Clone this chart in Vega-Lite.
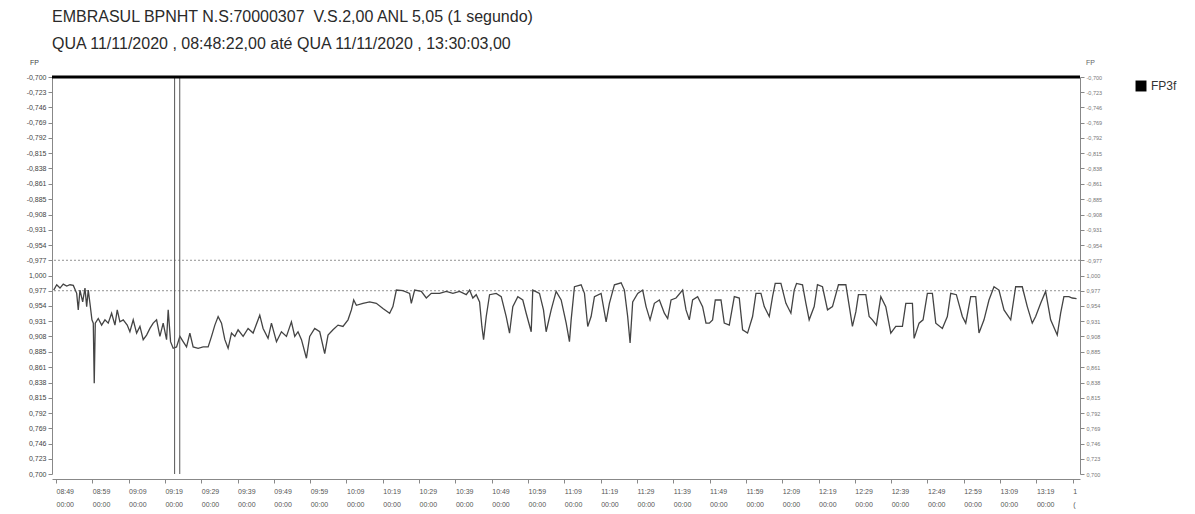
{
  "$schema": "https://vega.github.io/schema/vega-lite/v6.json",
  "autosize": {"type": "none"},
  "width": 1028,
  "height": 397,
  "padding": {"left": 52, "top": 77, "right": 115, "bottom": 40},
  "background": "white",
  "config": {"view": {"stroke": null}, "axisX": {"labelOverlap": false}},
  "title": {
    "text": ["EMBRASUL BPNHT N.S:70000307\u00a0 V.S.2,00 ANL 5,05 (1 segundo)", "QUA 11/11/2020 , 08:48:22,00 até QUA 11/11/2020 , 13:30:03,00"],
    "anchor": "start", "frame": "group", "font": "Liberation Sans", "fontSize": 16, "fontWeight": "normal", "color": "#2a2a2a", "lineHeight": 27, "offset": 6
  },
  "layer": [
    {
      "data": {"values": [{"ref": 0.977}, {"ref": 1.023}]},
      "mark": {"type": "rule", "color": "#777", "strokeWidth": 0.8, "strokeDash": [2, 2]},
      "encoding": {
        "y": {"field": "ref", "type": "quantitative", "scale": {"domain": [0.7, 1.3], "nice": false, "zero": false},
          "axis": {"orient": "right", "values": [0.7, 0.723, 0.746, 0.769, 0.792, 0.815, 0.838, 0.861, 0.885, 0.908, 0.931, 0.954, 0.977, 1.0, 1.023, 1.046, 1.069, 1.092, 1.115, 1.139, 1.162, 1.185, 1.208, 1.231, 1.254, 1.277, 1.3],
            "labelExpr": "datum.value > 1.0005 ? '-' + replace(format(2 - datum.value, '.3f'), '.', ',') : replace(format(datum.value, '.3f'), '.', ',')",
            "title": "FP", "titleAngle": 0, "titleX": 10, "titleY": -12, "titleAlign": "center", "titleFontSize": 7, "titleFontWeight": "normal", "titleColor": "#666", "titleFont": "Liberation Sans",
            "labelFontSize": 5.5, "labelColor": "#777", "labelFont": "Liberation Sans", "tickSize": 4, "tickColor": "#888", "domainColor": "#888", "grid": false, "labelPadding": 2, "labelOverlap": false, "labelBound": false, "labelFlush": false}}
      }
    },
    {
      "data": {"values": [
        {"t": "2020-11-11T08:48:22", "fp": 0.978}, {"t": "2020-11-11T08:49:12", "fp": 0.986}, {"t": "2020-11-11T08:50:06", "fp": 0.981}, {"t": "2020-11-11T08:51:00", "fp": 0.987}, {"t": "2020-11-11T08:51:57", "fp": 0.984}, {"t": "2020-11-11T08:52:51", "fp": 0.986}, {"t": "2020-11-11T08:53:46", "fp": 0.985}, {"t": "2020-11-11T08:54:42", "fp": 0.973}, {"t": "2020-11-11T08:55:08", "fp": 0.948}, {"t": "2020-11-11T08:55:36", "fp": 0.978}, {"t": "2020-11-11T08:56:21", "fp": 0.960}, {"t": "2020-11-11T08:56:59", "fp": 0.981}, {"t": "2020-11-11T08:57:27", "fp": 0.953}, {"t": "2020-11-11T08:57:53", "fp": 0.978}, {"t": "2020-11-11T08:58:21", "fp": 0.958}, {"t": "2020-11-11T08:58:54", "fp": 0.933}, {"t": "2020-11-11T08:59:16", "fp": 0.928}, {"t": "2020-11-11T08:59:32", "fp": 0.837}, {"t": "2020-11-11T08:59:49", "fp": 0.928},
        {"t": "2020-11-11T09:00:38", "fp": 0.935}, {"t": "2020-11-11T09:01:34", "fp": 0.925}, {"t": "2020-11-11T09:02:29", "fp": 0.933}, {"t": "2020-11-11T09:03:23", "fp": 0.928}, {"t": "2020-11-11T09:04:19", "fp": 0.943}, {"t": "2020-11-11T09:05:14", "fp": 0.925}, {"t": "2020-11-11T09:05:52", "fp": 0.948}, {"t": "2020-11-11T09:06:36", "fp": 0.930}, {"t": "2020-11-11T09:07:31", "fp": 0.933}, {"t": "2020-11-11T09:08:37", "fp": 0.925}, {"t": "2020-11-11T09:09:21", "fp": 0.915}, {"t": "2020-11-11T09:10:16", "fp": 0.933}, {"t": "2020-11-11T09:11:12", "fp": 0.913}, {"t": "2020-11-11T09:12:07", "fp": 0.923}, {"t": "2020-11-11T09:13:01", "fp": 0.903}, {"t": "2020-11-11T09:13:57", "fp": 0.910}, {"t": "2020-11-11T09:14:52", "fp": 0.920}, {"t": "2020-11-11T09:15:46", "fp": 0.928}, {"t": "2020-11-11T09:16:42", "fp": 0.933}, {"t": "2020-11-11T09:17:37", "fp": 0.908}, {"t": "2020-11-11T09:18:31", "fp": 0.928}, {"t": "2020-11-11T09:19:27", "fp": 0.903}, {"t": "2020-11-11T09:19:54", "fp": 0.948},
        {"t": "2020-11-11T09:20:33", "fp": 0.900}, {"t": "2020-11-11T09:21:16", "fp": 0.890}, {"t": "2020-11-11T09:22:12", "fp": 0.892}, {"t": "2020-11-11T09:23:07", "fp": 0.908}, {"t": "2020-11-11T09:24:01", "fp": 0.900}, {"t": "2020-11-11T09:24:57", "fp": 0.892}, {"t": "2020-11-11T09:25:52", "fp": 0.913}, {"t": "2020-11-11T09:26:46", "fp": 0.892}, {"t": "2020-11-11T09:28:09", "fp": 0.890}, {"t": "2020-11-11T09:29:31", "fp": 0.892}, {"t": "2020-11-11T09:30:54", "fp": 0.892}, {"t": "2020-11-11T09:31:50", "fp": 0.908}, {"t": "2020-11-11T09:32:45", "fp": 0.925}, {"t": "2020-11-11T09:33:39", "fp": 0.938}, {"t": "2020-11-11T09:34:35", "fp": 0.928}, {"t": "2020-11-11T09:35:30", "fp": 0.903}, {"t": "2020-11-11T09:36:24", "fp": 0.890}, {"t": "2020-11-11T09:37:20", "fp": 0.913}, {"t": "2020-11-11T09:38:15", "fp": 0.908}, {"t": "2020-11-11T09:39:09", "fp": 0.918},
        {"t": "2020-11-11T09:40:32", "fp": 0.908}, {"t": "2020-11-11T09:41:54", "fp": 0.920}, {"t": "2020-11-11T09:43:17", "fp": 0.913}, {"t": "2020-11-11T09:45:07", "fp": 0.940}, {"t": "2020-11-11T09:46:02", "fp": 0.920}, {"t": "2020-11-11T09:47:24", "fp": 0.905}, {"t": "2020-11-11T09:48:20", "fp": 0.928}, {"t": "2020-11-11T09:49:43", "fp": 0.900}, {"t": "2020-11-11T09:51:05", "fp": 0.915}, {"t": "2020-11-11T09:52:28", "fp": 0.908}, {"t": "2020-11-11T09:53:50", "fp": 0.930}, {"t": "2020-11-11T09:54:45", "fp": 0.908}, {"t": "2020-11-11T09:55:39", "fp": 0.915}, {"t": "2020-11-11T09:56:36", "fp": 0.903}, {"t": "2020-11-11T09:57:58", "fp": 0.875}, {"t": "2020-11-11T09:58:52", "fp": 0.908},
        {"t": "2020-11-11T10:00:15", "fp": 0.920}, {"t": "2020-11-11T10:01:38", "fp": 0.915}, {"t": "2020-11-11T10:03:00", "fp": 0.882}, {"t": "2020-11-11T10:03:55", "fp": 0.910}, {"t": "2020-11-11T10:05:17", "fp": 0.918}, {"t": "2020-11-11T10:06:40", "fp": 0.925}, {"t": "2020-11-11T10:08:02", "fp": 0.923}, {"t": "2020-11-11T10:09:25", "fp": 0.933}, {"t": "2020-11-11T10:10:21", "fp": 0.948}, {"t": "2020-11-11T10:10:59", "fp": 0.963}, {"t": "2020-11-11T10:11:43", "fp": 0.955}, {"t": "2020-11-11T10:13:32", "fp": 0.958}, {"t": "2020-11-11T10:15:23", "fp": 0.960}, {"t": "2020-11-11T10:17:13", "fp": 0.958}, {"t": "2020-11-11T10:19:02", "fp": 0.950},
        {"t": "2020-11-11T10:20:53", "fp": 0.943}, {"t": "2020-11-11T10:21:47", "fp": 0.953}, {"t": "2020-11-11T10:22:44", "fp": 0.978}, {"t": "2020-11-11T10:24:32", "fp": 0.977}, {"t": "2020-11-11T10:26:23", "fp": 0.973}, {"t": "2020-11-11T10:26:51", "fp": 0.958}, {"t": "2020-11-11T10:27:46", "fp": 0.978}, {"t": "2020-11-11T10:29:36", "fp": 0.976}, {"t": "2020-11-11T10:30:59", "fp": 0.966}, {"t": "2020-11-11T10:32:21", "fp": 0.973}, {"t": "2020-11-11T10:34:38", "fp": 0.973}, {"t": "2020-11-11T10:36:29", "fp": 0.976}, {"t": "2020-11-11T10:38:18", "fp": 0.973},
        {"t": "2020-11-11T10:40:08", "fp": 0.976}, {"t": "2020-11-11T10:41:59", "fp": 0.971}, {"t": "2020-11-11T10:42:54", "fp": 0.978}, {"t": "2020-11-11T10:43:48", "fp": 0.966}, {"t": "2020-11-11T10:44:44", "fp": 0.971}, {"t": "2020-11-11T10:45:39", "fp": 0.960}, {"t": "2020-11-11T10:46:17", "fp": 0.923}, {"t": "2020-11-11T10:46:45", "fp": 0.903}, {"t": "2020-11-11T10:47:29", "fp": 0.938}, {"t": "2020-11-11T10:48:24", "fp": 0.971}, {"t": "2020-11-11T10:50:14", "fp": 0.973}, {"t": "2020-11-11T10:51:37", "fp": 0.968}, {"t": "2020-11-11T10:52:59", "fp": 0.938}, {"t": "2020-11-11T10:53:54", "fp": 0.913}, {"t": "2020-11-11T10:54:48", "fp": 0.953}, {"t": "2020-11-11T10:56:11", "fp": 0.968}, {"t": "2020-11-11T10:57:33", "fp": 0.963}, {"t": "2020-11-11T10:58:29", "fp": 0.943}, {"t": "2020-11-11T10:59:52", "fp": 0.915},
        {"t": "2020-11-11T11:00:18", "fp": 0.978}, {"t": "2020-11-11T11:02:09", "fp": 0.973}, {"t": "2020-11-11T11:03:15", "fp": 0.948}, {"t": "2020-11-11T11:03:59", "fp": 0.915}, {"t": "2020-11-11T11:05:22", "fp": 0.948}, {"t": "2020-11-11T11:06:44", "fp": 0.976}, {"t": "2020-11-11T11:08:07", "fp": 0.963}, {"t": "2020-11-11T11:09:30", "fp": 0.928}, {"t": "2020-11-11T11:10:24", "fp": 0.900}, {"t": "2020-11-11T11:10:52", "fp": 0.933}, {"t": "2020-11-11T11:11:47", "fp": 0.983}, {"t": "2020-11-11T11:13:37", "fp": 0.986}, {"t": "2020-11-11T11:14:32", "fp": 0.973}, {"t": "2020-11-11T11:15:26", "fp": 0.923}, {"t": "2020-11-11T11:16:22", "fp": 0.938}, {"t": "2020-11-11T11:17:17", "fp": 0.968}, {"t": "2020-11-11T11:19:07", "fp": 0.973},
        {"t": "2020-11-11T11:20:30", "fp": 0.930}, {"t": "2020-11-11T11:21:24", "fp": 0.958}, {"t": "2020-11-11T11:22:47", "fp": 0.986}, {"t": "2020-11-11T11:24:38", "fp": 0.989}, {"t": "2020-11-11T11:25:32", "fp": 0.978}, {"t": "2020-11-11T11:26:26", "fp": 0.938}, {"t": "2020-11-11T11:27:06", "fp": 0.898}, {"t": "2020-11-11T11:27:49", "fp": 0.960}, {"t": "2020-11-11T11:29:12", "fp": 0.973}, {"t": "2020-11-11T11:30:34", "fp": 0.978}, {"t": "2020-11-11T11:31:30", "fp": 0.953}, {"t": "2020-11-11T11:32:36", "fp": 0.933}, {"t": "2020-11-11T11:33:47", "fp": 0.958}, {"t": "2020-11-11T11:35:10", "fp": 0.963}, {"t": "2020-11-11T11:36:32", "fp": 0.943}, {"t": "2020-11-11T11:37:27", "fp": 0.935}, {"t": "2020-11-11T11:38:23", "fp": 0.963}, {"t": "2020-11-11T11:39:45", "fp": 0.966},
        {"t": "2020-11-11T11:41:34", "fp": 0.978}, {"t": "2020-11-11T11:42:30", "fp": 0.948}, {"t": "2020-11-11T11:43:25", "fp": 0.933}, {"t": "2020-11-11T11:44:19", "fp": 0.963}, {"t": "2020-11-11T11:45:42", "fp": 0.968}, {"t": "2020-11-11T11:47:04", "fp": 0.953}, {"t": "2020-11-11T11:48:00", "fp": 0.928}, {"t": "2020-11-11T11:48:55", "fp": 0.928}, {"t": "2020-11-11T11:49:49", "fp": 0.933}, {"t": "2020-11-11T11:50:34", "fp": 0.963}, {"t": "2020-11-11T11:52:08", "fp": 0.963}, {"t": "2020-11-11T11:53:02", "fp": 0.928}, {"t": "2020-11-11T11:54:25", "fp": 0.925}, {"t": "2020-11-11T11:55:48", "fp": 0.968}, {"t": "2020-11-11T11:57:10", "fp": 0.966}, {"t": "2020-11-11T11:58:05", "fp": 0.918}, {"t": "2020-11-11T11:59:27", "fp": 0.913},
        {"t": "2020-11-11T12:00:50", "fp": 0.938}, {"t": "2020-11-11T12:01:46", "fp": 0.973}, {"t": "2020-11-11T12:03:08", "fp": 0.973}, {"t": "2020-11-11T12:04:03", "fp": 0.953}, {"t": "2020-11-11T12:05:25", "fp": 0.938}, {"t": "2020-11-11T12:06:20", "fp": 0.968}, {"t": "2020-11-11T12:07:04", "fp": 0.988}, {"t": "2020-11-11T12:08:38", "fp": 0.988}, {"t": "2020-11-11T12:10:01", "fp": 0.958}, {"t": "2020-11-11T12:11:23", "fp": 0.943}, {"t": "2020-11-11T12:12:18", "fp": 0.978}, {"t": "2020-11-11T12:12:56", "fp": 0.988}, {"t": "2020-11-11T12:14:35", "fp": 0.986}, {"t": "2020-11-11T12:15:31", "fp": 0.958}, {"t": "2020-11-11T12:16:25", "fp": 0.933}, {"t": "2020-11-11T12:17:48", "fp": 0.953}, {"t": "2020-11-11T12:18:42", "fp": 0.986},
        {"t": "2020-11-11T12:20:05", "fp": 0.983}, {"t": "2020-11-11T12:21:28", "fp": 0.948}, {"t": "2020-11-11T12:22:50", "fp": 0.953}, {"t": "2020-11-11T12:24:29", "fp": 0.986}, {"t": "2020-11-11T12:26:31", "fp": 0.986}, {"t": "2020-11-11T12:27:37", "fp": 0.948}, {"t": "2020-11-11T12:28:20", "fp": 0.923}, {"t": "2020-11-11T12:29:16", "fp": 0.945}, {"t": "2020-11-11T12:29:59", "fp": 0.971}, {"t": "2020-11-11T12:32:01", "fp": 0.971}, {"t": "2020-11-11T12:32:56", "fp": 0.938}, {"t": "2020-11-11T12:33:50", "fp": 0.933}, {"t": "2020-11-11T12:34:56", "fp": 0.925}, {"t": "2020-11-11T12:36:09", "fp": 0.968}, {"t": "2020-11-11T12:37:31", "fp": 0.953}, {"t": "2020-11-11T12:38:54", "fp": 0.913},
        {"t": "2020-11-11T12:40:16", "fp": 0.923}, {"t": "2020-11-11T12:42:06", "fp": 0.923}, {"t": "2020-11-11T12:43:02", "fp": 0.958}, {"t": "2020-11-11T12:44:51", "fp": 0.958}, {"t": "2020-11-11T12:45:19", "fp": 0.905}, {"t": "2020-11-11T12:46:41", "fp": 0.928}, {"t": "2020-11-11T12:47:47", "fp": 0.933}, {"t": "2020-11-11T12:48:58", "fp": 0.973}, {"t": "2020-11-11T12:50:21", "fp": 0.973}, {"t": "2020-11-11T12:51:17", "fp": 0.928}, {"t": "2020-11-11T12:53:06", "fp": 0.920}, {"t": "2020-11-11T12:54:28", "fp": 0.938}, {"t": "2020-11-11T12:55:24", "fp": 0.973}, {"t": "2020-11-11T12:56:57", "fp": 0.971}, {"t": "2020-11-11T12:58:36", "fp": 0.938}, {"t": "2020-11-11T12:59:32", "fp": 0.928},
        {"t": "2020-11-11T13:00:54", "fp": 0.968}, {"t": "2020-11-11T13:02:17", "fp": 0.968}, {"t": "2020-11-11T13:03:11", "fp": 0.913}, {"t": "2020-11-11T13:04:34", "fp": 0.933}, {"t": "2020-11-11T13:05:56", "fp": 0.963}, {"t": "2020-11-11T13:07:19", "fp": 0.983}, {"t": "2020-11-11T13:08:41", "fp": 0.978}, {"t": "2020-11-11T13:10:04", "fp": 0.948}, {"t": "2020-11-11T13:11:55", "fp": 0.933}, {"t": "2020-11-11T13:13:17", "fp": 0.983}, {"t": "2020-11-11T13:15:06", "fp": 0.983}, {"t": "2020-11-11T13:16:29", "fp": 0.953}, {"t": "2020-11-11T13:17:51", "fp": 0.928}, {"t": "2020-11-11T13:18:47", "fp": 0.938},
        {"t": "2020-11-11T13:20:10", "fp": 0.958}, {"t": "2020-11-11T13:21:32", "fp": 0.976}, {"t": "2020-11-11T13:22:55", "fp": 0.933}, {"t": "2020-11-11T13:24:44", "fp": 0.910}, {"t": "2020-11-11T13:25:40", "fp": 0.943}, {"t": "2020-11-11T13:26:34", "fp": 0.968}, {"t": "2020-11-11T13:27:57", "fp": 0.968}, {"t": "2020-11-11T13:28:52", "fp": 0.966}, {"t": "2020-11-11T13:30:03", "fp": 0.965}
      ]},
      "mark": {"type": "line", "strokeWidth": 1.3, "interpolate": "linear"},
      "encoding": {
        "x": {"field": "t", "type": "temporal",
          "scale": {"domain": [{"year": 2020, "month": 11, "date": 11, "hours": 8, "minutes": 47, "seconds": 54}, {"year": 2020, "month": 11, "date": 11, "hours": 13, "minutes": 31, "seconds": 0}]},
          "axis": {"title": null, "offset": 5, "grid": false,
            "values": [
              {"year": 2020, "month": 11, "date": 11, "hours": 8, "minutes": 49}, {"year": 2020, "month": 11, "date": 11, "hours": 8, "minutes": 59},
              {"year": 2020, "month": 11, "date": 11, "hours": 9, "minutes": 9}, {"year": 2020, "month": 11, "date": 11, "hours": 9, "minutes": 19}, {"year": 2020, "month": 11, "date": 11, "hours": 9, "minutes": 29}, {"year": 2020, "month": 11, "date": 11, "hours": 9, "minutes": 39}, {"year": 2020, "month": 11, "date": 11, "hours": 9, "minutes": 49}, {"year": 2020, "month": 11, "date": 11, "hours": 9, "minutes": 59},
              {"year": 2020, "month": 11, "date": 11, "hours": 10, "minutes": 9}, {"year": 2020, "month": 11, "date": 11, "hours": 10, "minutes": 19}, {"year": 2020, "month": 11, "date": 11, "hours": 10, "minutes": 29}, {"year": 2020, "month": 11, "date": 11, "hours": 10, "minutes": 39}, {"year": 2020, "month": 11, "date": 11, "hours": 10, "minutes": 49}, {"year": 2020, "month": 11, "date": 11, "hours": 10, "minutes": 59},
              {"year": 2020, "month": 11, "date": 11, "hours": 11, "minutes": 9}, {"year": 2020, "month": 11, "date": 11, "hours": 11, "minutes": 19}, {"year": 2020, "month": 11, "date": 11, "hours": 11, "minutes": 29}, {"year": 2020, "month": 11, "date": 11, "hours": 11, "minutes": 39}, {"year": 2020, "month": 11, "date": 11, "hours": 11, "minutes": 49}, {"year": 2020, "month": 11, "date": 11, "hours": 11, "minutes": 59},
              {"year": 2020, "month": 11, "date": 11, "hours": 12, "minutes": 9}, {"year": 2020, "month": 11, "date": 11, "hours": 12, "minutes": 19}, {"year": 2020, "month": 11, "date": 11, "hours": 12, "minutes": 29}, {"year": 2020, "month": 11, "date": 11, "hours": 12, "minutes": 39}, {"year": 2020, "month": 11, "date": 11, "hours": 12, "minutes": 49}, {"year": 2020, "month": 11, "date": 11, "hours": 12, "minutes": 59},
              {"year": 2020, "month": 11, "date": 11, "hours": 13, "minutes": 9}, {"year": 2020, "month": 11, "date": 11, "hours": 13, "minutes": 19}, {"year": 2020, "month": 11, "date": 11, "hours": 13, "minutes": 29}
            ],
            "labelExpr": "timeFormat(datum.value, '%H:%M') == '13:29' ? ['1', '('] : [timeFormat(datum.value, '%H:%M'), '00:00']",
            "labelAlign": "left", "labelBaseline": "top", "labelPadding": 4, "labelLineHeight": 13, "labelFontSize": 7, "labelFont": "Liberation Sans", "labelColor": "#555",
            "tickSize": 4, "tickColor": "#888", "domainColor": "#888", "labelOverlap": false, "labelFlush": false, "labelBound": false}},
        "y": {"field": "fp", "type": "quantitative", "scale": {"domain": [0.7, 1.3], "nice": false, "zero": false},
          "axis": {"orient": "left", "values": [0.7, 0.723, 0.746, 0.769, 0.792, 0.815, 0.838, 0.861, 0.885, 0.908, 0.931, 0.954, 0.977, 1.0, 1.023, 1.046, 1.069, 1.092, 1.115, 1.139, 1.162, 1.185, 1.208, 1.231, 1.254, 1.277, 1.3],
            "labelExpr": "datum.value > 1.0005 ? '-' + replace(format(2 - datum.value, '.3f'), '.', ',') : replace(format(datum.value, '.3f'), '.', ',')",
            "title": "FP", "titleAngle": 0, "titleX": -18, "titleY": -12, "titleAlign": "center", "titleFontSize": 7, "titleFontWeight": "normal", "titleColor": "#444", "titleFont": "Liberation Sans",
            "labelFontSize": 7, "labelColor": "#444", "labelFont": "Liberation Sans", "tickSize": 4, "tickColor": "#888", "domainColor": "#888", "grid": false, "labelPadding": 2, "labelOverlap": false, "labelBound": false, "labelFlush": false}},
        "color": {"datum": "FP3f", "type": "nominal", "scale": {"range": ["#444444"]},
          "legend": {"orient": "none", "legendX": 1083, "legendY": 3, "title": null, "symbolType": "square", "symbolSize": 120, "labelFontSize": 12, "labelFont": "Liberation Sans", "labelColor": "#333", "labelOffset": 4,
            "encode": {"symbols": {"update": {"fill": {"value": "black"}, "stroke": {"value": "black"}, "strokeWidth": {"value": 0}}}}}}
      }
    },
    {
      "data": {"values": [{"c": "2020-11-11T09:21:40"}, {"c": "2020-11-11T09:23:05"}]},
      "mark": {"type": "rule", "color": "#555", "strokeWidth": 1},
      "encoding": {"x": {"field": "c", "type": "temporal", "axis": null}}
    },
    {
      "data": {"values": [{"top": 1.3}]},
      "mark": {"type": "rule", "color": "black", "strokeWidth": 3},
      "encoding": {"y": {"field": "top", "type": "quantitative", "axis": null}}
    }
  ],
  "resolve": {"axis": {"y": "independent", "x": "independent"}}
}
